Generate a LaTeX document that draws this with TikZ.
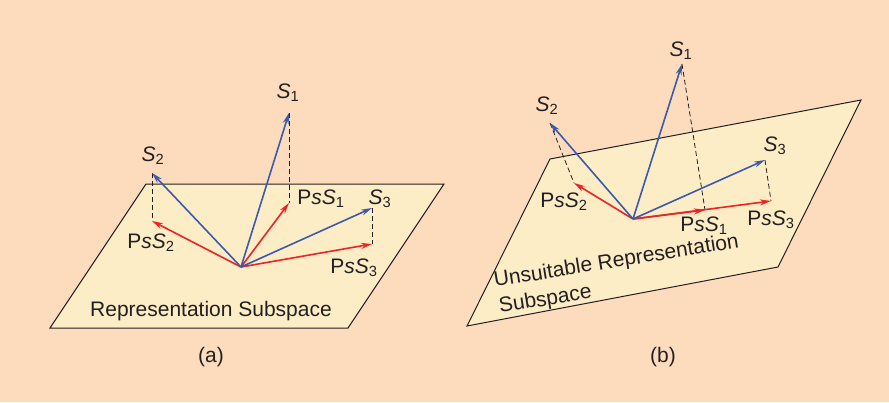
\documentclass[tikz,border=0pt]{standalone}
\usepackage{fontspec}
\setmainfont{Liberation Sans}
\usetikzlibrary{arrows.meta}
\definecolor{bgpeach}{HTML}{FDDCBD}
\definecolor{planefill}{HTML}{FDEDC6}
\definecolor{vblue}{HTML}{3B5BA9}
\definecolor{vred}{HTML}{EC2327}
\definecolor{ink}{HTML}{231F20}
\begin{document}
\begin{tikzpicture}[x=1pt,y=-1pt,
  every node/.style={font=\fontsize{21}{24}\selectfont, text=ink, inner sep=0pt},
  plane/.style={draw=ink, line width=1pt, fill=planefill},
  bluevec/.style={draw=vblue, line width=1.6pt, -{Stealth[length=11pt,width=6pt]}},
  redvec/.style={draw=vred, line width=1.6pt, -{Stealth[length=11pt,width=6pt]}},
  proj/.style={draw=ink, line width=0.8pt, dash pattern=on 5pt off 3pt}]
\fill[bgpeach] (0,0) rectangle (889,402);
\useasboundingbox (0,0) rectangle (889,402);
% ---------------- (a) ----------------
\draw[plane] (146,184) -- (444,184) -- (348,328) -- (50,328) -- cycle;
\coordinate (oa) at (241,267);
\coordinate (a1) at (289,113);
\coordinate (pa1) at (289,203);
\coordinate (a2) at (152,173);
\coordinate (pa2) at (152,221);
\coordinate (a3) at (372,208);
\coordinate (pa3) at (372,244);
\draw[proj] (a1) -- (pa1);
\draw[proj] (a2) -- (pa2);
\draw[proj] (a3) -- (pa3);
\draw[redvec] (oa) -- (pa1);
\draw[redvec] (oa) -- (pa2);
\draw[redvec] (oa) -- (pa3);
\draw[bluevec] (oa) -- (a1);
\draw[bluevec] (oa) -- (a2);
\draw[bluevec] (oa) -- (a3);
\node (la1) at (288,93) {$\mathit{S}_{\mathrm{1}}$};
\node (lpa1) at (321,199) {P\textit{sS}$_{\mathrm{1}}$};
\node (la2) at (153,156) {$\mathit{S}_{\mathrm{2}}$};
\node (lpa2) at (151,243) {P\textit{sS}$_{\mathrm{2}}$};
\node (la3) at (380,199) {$\mathit{S}_{\mathrm{3}}$};
\node (lpa3) at (354,268) {P\textit{sS}$_{\mathrm{3}}$};
\node (ta) at (211,311) {Representation Subspace};
\node (capa) at (211,357) {(a)};
% ---------------- (b) ----------------
\draw[plane] (550,159) -- (861,100) -- (778,267) -- (467,326) -- cycle;
\coordinate (ob) at (633,219);
\coordinate (b1) at (682,64);
\coordinate (pb1) at (705,210);
\coordinate (b2) at (550,123);
\coordinate (pb2) at (574,183);
\coordinate (b3) at (765,160);
\coordinate (pb3) at (771,201);
\draw[proj] (b1) -- (pb1);
\draw[proj] (b2) -- (pb2);
\draw[proj] (b3) -- (pb3);
\draw[redvec] (ob) -- (pb3);
\draw[redvec] (ob) -- (pb1);
\draw[redvec] (ob) -- (pb2);
\draw[bluevec] (ob) -- (b1);
\draw[bluevec] (ob) -- (b2);
\draw[bluevec] (ob) -- (b3);
\node (lb1) at (681,51) {$\mathit{S}_{\mathrm{1}}$};
\node (lpb1) at (704,226) {P\textit{sS}$_{\mathrm{1}}$};
\node (lb2) at (547,106) {$\mathit{S}_{\mathrm{2}}$};
\node (lpb2) at (564,202) {P\textit{sS}$_{\mathrm{2}}$};
\node (lb3) at (775,146) {$\mathit{S}_{\mathrm{3}}$};
\node (lpb3) at (771,220) {P\textit{sS}$_{\mathrm{3}}$};
\node[rotate=9.2, anchor=base west] (tb1) at (495,287) {Unsuitable Representation};
\node[rotate=9.2, anchor=base west] (tb2) at (500,313) {Subspace};
\node (capb) at (663,357) {(b)};
\end{tikzpicture}
\end{document}
